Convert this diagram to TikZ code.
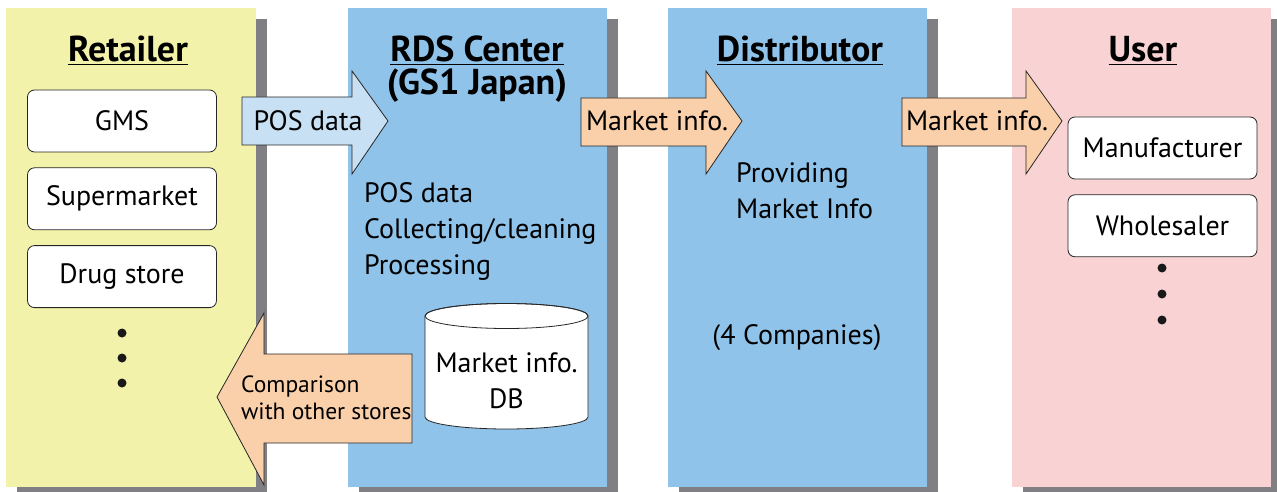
\documentclass[tikz,border=0pt]{standalone}
\usepackage{fontspec}
\setmainfont{PT Sans}
\usetikzlibrary{shadows,positioning}

\definecolor{retailyellow}{RGB}{242,242,170}
\definecolor{centerblue}{RGB}{144,195,233}
\definecolor{userpink}{RGB}{249,211,211}
\definecolor{arroworange}{RGB}{250,208,170}
\definecolor{arrowblue}{RGB}{200,224,243}
\definecolor{shadowgray}{RGB}{128,128,132}

\tikzset{
  panel/.style={fill=#1, minimum width=259pt, minimum height=479pt, inner sep=0pt,
    drop shadow={shadow xshift=11pt, shadow yshift=-11pt, fill=shadowgray, opacity=1}},
  store/.style={draw=black!85, fill=white, rounded corners=7pt, line width=0.8pt,
    minimum width=189pt, minimum height=62pt, font=\fontsize{28}{32}\selectfont},
  heading/.style={font=\fontsize{36}{40}\selectfont\bfseries, anchor=base, inner sep=0pt},
  body/.style={font=\fontsize{28}{36}\selectfont, align=left, inner sep=0pt},
  bigarrow/.style={draw=black!85, line width=0.8pt},
  dot/.style={circle, fill=black!90, inner sep=0pt, minimum size=9pt}
}

\begin{document}
\begin{tikzpicture}[x=1pt, y=-1pt]
  \useasboundingbox (0,0) rectangle (1277,492);

  % columns
  \node[panel=retailyellow, minimum width=250pt] (retailer) at (131,247.5) {};
  \node[panel=centerblue] (rds) at (477.5,247.5) {};
  \node[panel=centerblue] (dist) at (797.5,247.5) {};
  \node[panel=userpink] (user) at (1141.5,247.5) {};

  \node[heading] (retailerhead) at (128,62) {\underline{Retailer}};
  \node[heading] (rdshead) at (477,62) {\underline{RDS Center}};
  \node[heading] (rdssub) at (477,95) {(GS1 Japan)};
  \node[heading] (disthead) at (800,62) {\underline{Distributor}};
  \node[heading] (userhead) at (1143,62) {\underline{User}};

  % retailer side
  \node[store] (gms) at (122,121) {GMS};
  \node[store, below=15pt of gms] (super) {Supermarket};
  \node[store, below=15pt of super] (drug) {Drug store};
  \foreach \y/\n in {333/1,358/2,383/3}
    \node[dot] (rdot\n) at (122,\y) {};

  % user side
  \node[store] (maker) at (1162.5,148) {Manufacturer};
  \node[store, below=15pt of maker] (whole) {Wholesaler};
  \foreach \y/\n in {268/1,294/2,320/3}
    \node[dot] (udot\n) at (1162,\y) {};

  % big arrows
  \draw[bigarrow, fill=arrowblue] (242,97) -- (352,97) -- (352,71) -- (388,121)
    -- (352,174) -- (352,145) -- (242,145) -- cycle;
  \node[body] (posflow) at (308,121) {POS data};

  \draw[bigarrow, fill=arroworange] (581,98) -- (706,98) -- (706,71) -- (742,121)
    -- (706,174) -- (706,146) -- (581,146) -- cycle;
  \node[body] (infoflow) at (657,121) {Market info.};

  \draw[bigarrow, fill=arroworange] (902,98) -- (1026,98) -- (1026,71) -- (1062,121)
    -- (1026,174) -- (1026,146) -- (902,146) -- cycle;
  \node[body] (infoflowb) at (977,121) {Market info.};

  \draw[bigarrow, fill=arroworange] (412,354) -- (264,354) -- (264,313) -- (217,397)
    -- (264,485) -- (264,443) -- (412,443) -- cycle;
  \node[body, anchor=west, font=\fontsize{23.5}{27}\selectfont] (compare) at (241,398)
    {Comparison\\with other stores};

  % center work
  \node[body, anchor=north west] (rdswork) at (364,182)
    {POS data\\Collecting/cleaning\\Processing};

  % database
  \draw[bigarrow, fill=white] (425,316) -- (425,417)
    arc[start angle=180, end angle=360, x radius=81.5pt, y radius=12pt]
    -- (588,316) arc[start angle=0, end angle=180, x radius=81.5pt, y radius=12.5pt] -- cycle;
  \draw[bigarrow] (506.5,316) ellipse[x radius=81.5pt, y radius=12.5pt];
  \node[body, align=center] (db) at (506.5,381) {Market info.\\DB};

  % distributor
  \node[body, anchor=north west] (distwork) at (736,162) {Providing\\Market Info};
  \node[body] (distcount) at (797,338) {(4 Companies)};
\end{tikzpicture}
\end{document}
